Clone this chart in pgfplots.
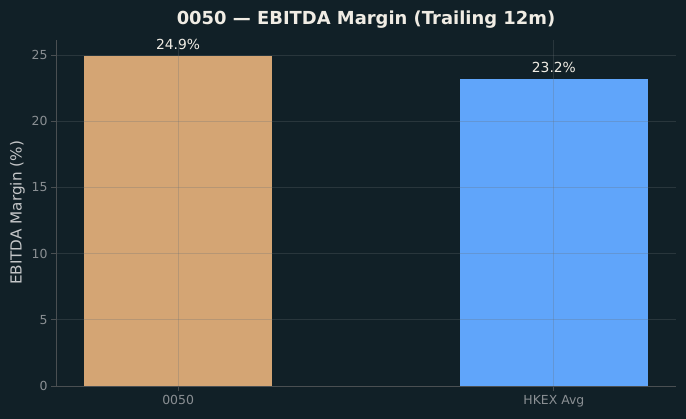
\documentclass[border=0pt]{standalone}
\usepackage{pgfplots}
\pgfplotsset{compat=1.18}
\usepackage{fontspec}
\setmainfont{DejaVu Sans}
\definecolor{bgcol}{HTML}{112027}
\definecolor{tancol}{HTML}{D4A574}
\definecolor{bluecol}{HTML}{60A5FA}
\definecolor{spinecol}{HTML}{4A4F52}
\definecolor{tickcol}{HTML}{8A8F93}
\definecolor{labcol}{HTML}{C4C6C8}
\definecolor{titlecol}{HTML}{F0ECE4}
\definecolor{gridcol}{HTML}{6A7176}
\begin{document}
\begin{tikzpicture}
\fill[bgcol] (0,0) rectangle (686bp,419bp);
\begin{axis}[
  at={(56bp,33bp)}, anchor=south west,
  scale only axis, width=620bp, height=346bp,
  xmin=-0.325, xmax=1.325, ymin=0, ymax=26.145,
  xtick={0,1}, xticklabels={0050,HKEX Avg},
  ytick={0,5,10,15,20,25},
  axis x line*=bottom, axis y line*=left,
  axis line style={draw=spinecol, line width=0.8pt, -},
  tick style={draw=spinecol, line width=0.8pt},
  tick align=outside, major tick length=4.9bp,
  tick label style={font=\fontsize{12.5}{15}\selectfont, text=tickcol},
  /pgf/number format/assume math mode=true,
  xticklabel style={yshift=-1bp},
  ylabel={EBITDA Margin (\%)},
  ylabel style={font=\fontsize{15.3}{18}\selectfont, text=labcol},
  title={\textbf{0050 — EBITDA Margin (Trailing 12m)}},
  title style={at={(0.5,1)}, anchor=center, yshift=14bp, font=\fontsize{18}{21}\selectfont, text=titlecol},
  grid=major, major grid style={draw=gridcol, opacity=0.28, line width=0.8pt},
  axis on top,
  ybar, bar width=0.5,
  nodes near coords={\pgfmathprintnumber[fixed,precision=1,fixed zerofill]{\pgfplotspointmeta}\%},
  nodes near coords style={font=\fontsize{13.9}{16}\selectfont, text=titlecol, anchor=south, yshift=3bp},
]
\addplot[fill=tancol, draw=none, bar shift=0pt] coordinates {(0,24.9)};
\addplot[fill=bluecol, draw=none, bar shift=0pt] coordinates {(1,23.2)};
\end{axis}
\end{tikzpicture}
\end{document}
